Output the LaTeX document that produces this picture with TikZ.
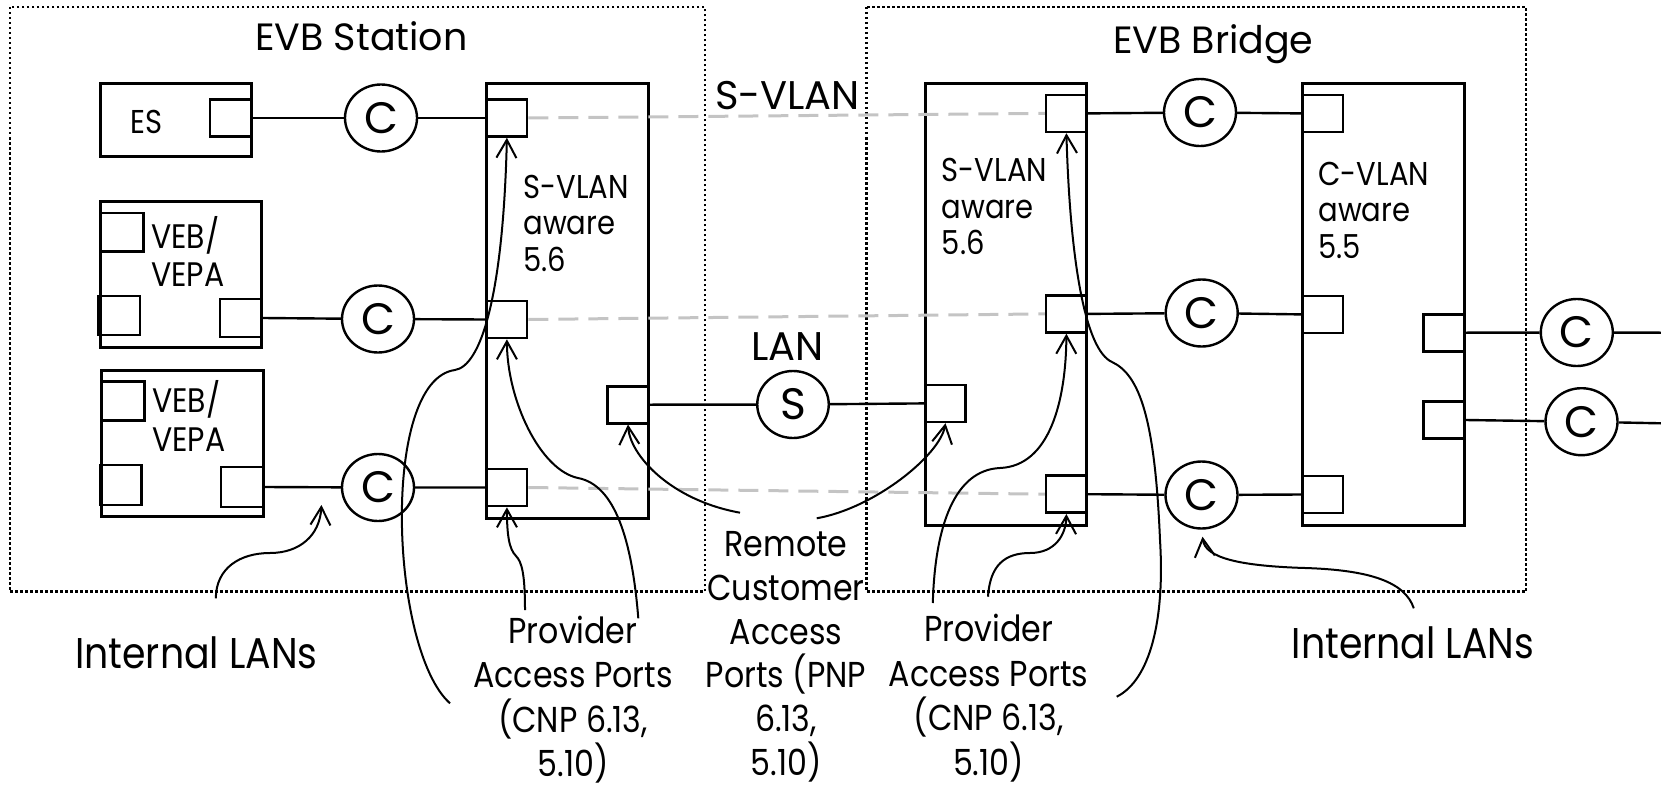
\documentclass[tikz,border=0pt]{standalone}
\usepackage{fontspec}
\setmainfont{Poppins}[FakeStretch=0.88]
\newfontfamily\widefont{Poppins}
\usetikzlibrary{shapes.geometric,arrows.meta}
\definecolor{lgray}{RGB}{196,196,196}
\begin{document}
\begin{tikzpicture}[x=1pt,y=-1pt,
  box/.style={draw, line width=3pt},
  port/.style={draw, line width=2.6pt, rectangle, inner sep=0pt, minimum width=40.5pt, minimum height=37pt},
  circ/.style={draw, ellipse, line width=2.4pt, inner sep=0pt, minimum width=72pt, minimum height=67pt, font=\widefont\fontsize{44}{44}\selectfont},
  wire/.style={line width=2.4pt},
  vlan/.style={line width=3pt, draw=lgray, dash pattern=on 20pt off 10pt},
  encl/.style={line width=2.5pt, dash pattern=on 2.5pt off 2.5pt},
  callout/.style={line width=2pt, -{Straight Barb[length=18pt,width=20pt,line width=2pt]}},
  title/.style={inner sep=0pt, anchor=base, font=\widefont\fontsize{38}{44}\selectfont},
  biglbl/.style={inner sep=0pt, anchor=base, font=\widefont\fontsize{40}{44}\selectfont},
  inner/.style={inner sep=0pt, anchor=base west, align=left, font=\fontsize{33}{36.5}\selectfont},
  veb/.style={inner sep=0pt, anchor=base west, align=left, font=\fontsize{34}{38.5}\selectfont},
  note/.style={inner sep=0pt, anchor=base, align=center, font=\fontsize{36}{44.4}\selectfont},
  intl/.style={inner sep=0pt, anchor=base, font=\fontsize{43}{48}\selectfont}
]
\useasboundingbox (0,0) rectangle (1661,789);

% enclosures
\draw[encl] (10,7) rectangle (705,591.7);
\draw[encl] (866.7,7) rectangle (1526,591.7);

% titles
\node[title] (tstation) at (361.5,50.7) {EVB Station};
\node[title] (tbridge) at (1213.3,53.3) {EVB Bridge};
\node[biglbl] (tsvlan) at (787.5,110) {S-VLAN};
\node[biglbl] (tlan) at (787.4,360) {LAN};

% end station boxes
\draw[box] (100,83.3) rectangle (251.7,156.7);
\node[inner sep=0pt, anchor=base west, font=\fontsize{33}{36}\selectfont] (tes) at (130,133.3) {ES};
\node[port, minimum width=41.7pt] (esp) at (230.9,118) {};

\draw[box] (100,201.7) rectangle (261.7,347.7);
\node[port, minimum width=42.3pt, minimum height=38.7pt] (v1a) at (122.2,232.4) {};
\node[port, minimum width=42pt, minimum height=39pt] (v1b) at (119,315.5) {};
\node[port, minimum width=41.7pt, minimum height=38pt] (v1r) at (240.9,318) {};
\node[veb] (tveb1) at (151,286.8) {VEB/\\VEPA};

\draw[box] (101,370) rectangle (263,516.7);
\node[port, minimum width=43.6pt, minimum height=39pt] (v2a) at (122.8,401.2) {};
\node[port, minimum width=41.4pt, minimum height=40pt] (v2b) at (120.7,485) {};
\node[port, minimum width=42pt, minimum height=40pt] (v2r) at (242,487) {};
\node[veb] (tveb2) at (152,451) {VEB/\\VEPA};

% station S-VLAN component
\draw[box] (486.7,83.3) rectangle (648.5,518.3);
\node[port] (sp1) at (506.9,118) {};
\node[port] (sp2) at (506.9,319.5) {};
\node[port] (sp3) at (506.9,487.5) {};
\node[port] (slan) at (628,404.7) {};
\node[inner] (tsv1) at (523.3,271.3) {S-VLAN\\aware\\5.6};

% bridge components
\draw[box] (925,83.3) rectangle (1086.7,525);
\node[port] (bp1) at (1066.4,113.4) {};
\node[port] (bp2) at (1066.4,313.9) {};
\node[port] (bp3) at (1066.4,494.2) {};
\node[port] (blan) at (945.5,403.4) {};
\node[inner] (tsv2) at (941.7,254.7) {S-VLAN\\aware\\5.6};

\draw[box] (1302.5,83.3) rectangle (1464.5,525);
\node[port] (cp1) at (1322.8,113.4) {};
\node[port] (cp2) at (1322.8,314.4) {};
\node[port] (cp3) at (1322.8,494.5) {};
\node[port] (cr1) at (1444,332.7) {};
\node[port] (cr2) at (1444,420) {};
\node[inner] (tcv) at (1318.3,258) {C-VLAN\\aware\\5.5};

% S-VLAN dashed links
\draw[vlan] (sp1.east) -- (bp1.west);
\draw[vlan] (sp2.east) -- (bp2.west);
\draw[vlan] (sp3.east) -- (bp3.west);

% C / S components
\node[circ] (c1) at (381,118) {C};
\node[circ] (c2) at (378,319) {C};
\node[circ] (c3) at (378,487.5) {C};
\node[circ, minimum width=71.5pt] (s1) at (793,404.5) {S};
\node[circ] (bc1) at (1200,112.5) {C};
\node[circ] (bc2) at (1201.7,313) {C};
\node[circ] (bc3) at (1201.5,495) {C};
\node[circ] (rc1) at (1576.8,332.5) {C};
\node[circ] (rc2) at (1581.5,421.7) {C};
\coordinate (rend1) at (1661,332.7);
\coordinate (rend2) at (1661,423.3);

% wires
\draw[wire] (esp.east) -- (c1) -- (sp1.west);
\draw[wire] (v1r.east) -- (c2) -- (sp2.west);
\draw[wire] (v2r.east) -- (c3) -- (sp3.west);
\draw[wire] (slan.east) -- (s1) -- (blan.west);
\draw[wire] (bp1.east) -- (bc1) -- (cp1.west);
\draw[wire] (bp2.east) -- (bc2) -- (cp2.west);
\draw[wire] (bp3.east) -- (bc3) -- (cp3.west);
\draw[wire] (cr1.east) -- (rc1) -- (rend1);
\draw[wire] (cr2.east) -- (rc2) -- (rend2);

% bottom labels
\node[intl] (til) at (196.3,668.3) {Internal LANs};
\node[intl] (tir) at (1413,658.3) {Internal LANs};
\node[note] (tpap1) at (573,776.5) {Provider\\Access Ports\\(CNP 6.13,\\5.10)};
\node[note, font=\fontsize{36}{43.8}\selectfont] (trem) at (786,775.5) {Remote\\Customer\\Access\\Ports (PNP\\6.13,\\5.10)};
\node[note, font=\fontsize{36}{44.5}\selectfont] (tpap2) at (988.5,775) {Provider\\Access Ports\\(CNP 6.13,\\5.10)};

% callout anchors
\coordinate (a1) at (450,703.3);
\coordinate (a2) at (525,610);
\coordinate (a3) at (638.3,618.3);
\coordinate (ar1) at (740,512.7);
\coordinate (ar2) at (816.7,518.3);
\coordinate (ail) at (215.8,598.3);
\coordinate (ailt) at (321.4,505);
\coordinate (air) at (1413.8,608.3);
\coordinate (airt) at (1202.5,536.7);
\coordinate (b1) at (932.8,603);
\coordinate (b2) at (988,596.7);
\coordinate (b3) at (1116.7,696.7);

% callouts
\draw[callout] (a1) .. controls (390,650) and (380,380) .. (455,370)
  .. controls (480,366) and (503,300) .. (sp1.south);
\draw[callout] (a2) .. controls (525,575) and (522,562) .. (516,556)
  .. controls (509,549) and (507,535) .. (sp3.south);
\draw[callout] (a3) .. controls (632,540) and (615,485) .. (578,478)
  .. controls (540,470) and (507,400) .. (sp2.south);
\draw[callout] (ar1) .. controls (670,500) and (630,455) .. (slan.south);
\draw[callout] (ar2) .. controls (875,508) and (940,455) .. (blan.south);
\draw[callout] (ail) .. controls (216,568) and (240,553) .. (270,553)
  .. controls (300,553) and (320,535) .. (ailt);
\draw[callout] (air) .. controls (1405,582) and (1370,570) .. (1305,568)
  .. controls (1240,566) and (1205,558) .. (airt);
\draw[callout] (b1) .. controls (935,525) and (955,470) .. (1000,468)
  .. controls (1050,466) and (1066,400) .. (bp2.south);
\draw[callout] (b2) .. controls (990,565) and (1005,553) .. (1030,553)
  .. controls (1055,553) and (1066,535) .. (bp3.south);
\draw[callout] (b3) .. controls (1150,680) and (1165,620) .. (1160,540)
  .. controls (1155,420) and (1140,375) .. (1112,362)
  .. controls (1085,350) and (1070,260) .. (bp1.south);
\end{tikzpicture}
\end{document}
